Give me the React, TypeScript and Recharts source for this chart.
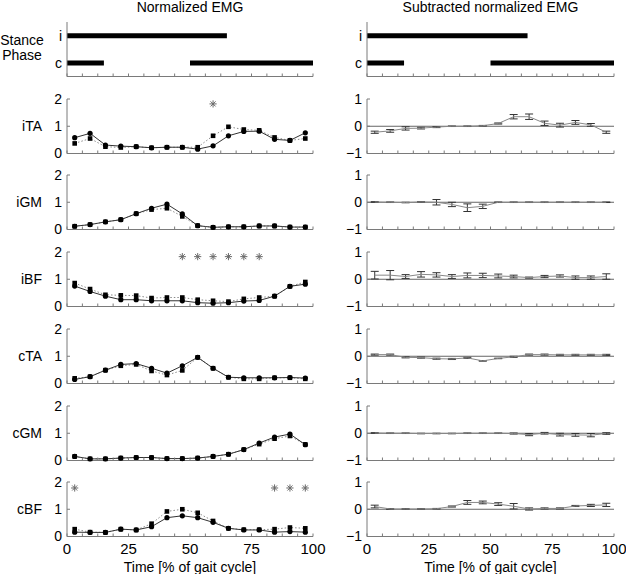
import React from 'react';
import { ComposedChart, Line, XAxis, YAxis, Scatter, ErrorBar, ReferenceLine } from 'recharts';

const FONT = '"Liberation Sans", Arial, Helvetica, sans-serif';
const AXIS = '#7a7a7a';

// ---------- data ----------
const gaitPct = [3.125, 9.375, 15.625, 21.875, 28.125, 34.375, 40.625, 46.875, 53.125, 59.375, 65.625, 71.875, 78.125, 84.375, 90.625, 96.875];
const xTicks = [0, 6.25, 12.5, 18.75, 25, 31.25, 37.5, 43.75, 50, 56.25, 62.5, 68.75, 75, 81.25, 87.5, 93.75, 100];
const xTickLabels = [0, 25, 50, 75, 100];
const muscles = ['iTA', 'iGM', 'iBF', 'cTA', 'cGM', 'cBF'];
const titles = ['Normalized EMG', 'Subtracted normalized EMG'];

// stance phase segments [start, end] in % gait cycle
const stanceI = [[0, 65]];
const stanceC = [[0, 15], [50, 100]];

// normalized EMG: condition 1 (circles, solid line) and condition 2 (squares, dotted line)
const iTA_circ = [0.58, 0.74, 0.31, 0.27, 0.25, 0.21, 0.23, 0.23, 0.16, 0.28, 0.65, 0.81, 0.82, 0.52, 0.48, 0.76];
const iTA_sq = [0.37, 0.55, 0.25, 0.22, 0.25, 0.21, 0.23, 0.23, 0.23, 0.65, 0.98, 0.88, 0.85, 0.59, 0.48, 0.55];
const iGM_circ = [0.12, 0.18, 0.28, 0.36, 0.58, 0.78, 0.93, 0.57, 0.14, 0.08, 0.1, 0.1, 0.13, 0.13, 0.09, 0.09];
const iGM_sq = [0.12, 0.18, 0.28, 0.36, 0.58, 0.73, 0.78, 0.48, 0.14, 0.08, 0.1, 0.1, 0.13, 0.13, 0.09, 0.09];
const iBF_circ = [0.75, 0.55, 0.38, 0.25, 0.25, 0.21, 0.21, 0.21, 0.14, 0.12, 0.14, 0.2, 0.22, 0.38, 0.74, 0.82];
const iBF_sq = [0.86, 0.64, 0.43, 0.41, 0.4, 0.31, 0.33, 0.33, 0.25, 0.21, 0.18, 0.28, 0.33, 0.38, 0.74, 0.9];
const cTA_circ = [0.15, 0.25, 0.49, 0.7, 0.73, 0.56, 0.38, 0.65, 0.96, 0.56, 0.23, 0.21, 0.21, 0.21, 0.22, 0.2];
const cTA_sq = [0.19, 0.25, 0.49, 0.65, 0.7, 0.46, 0.31, 0.48, 0.96, 0.56, 0.23, 0.17, 0.17, 0.21, 0.21, 0.17];
const cGM_circ = [0.15, 0.06, 0.06, 0.09, 0.11, 0.11, 0.07, 0.07, 0.09, 0.15, 0.23, 0.4, 0.64, 0.86, 0.97, 0.58];
const cGM_sq = [0.15, 0.06, 0.06, 0.09, 0.11, 0.11, 0.07, 0.07, 0.09, 0.15, 0.23, 0.4, 0.6, 0.8, 0.9, 0.59];
const cBF_circ = [0.16, 0.15, 0.15, 0.27, 0.24, 0.36, 0.69, 0.76, 0.69, 0.52, 0.3, 0.24, 0.24, 0.16, 0.18, 0.16];
const cBF_sq = [0.27, 0.16, 0.15, 0.27, 0.24, 0.47, 0.92, 1.0, 0.87, 0.57, 0.3, 0.25, 0.25, 0.27, 0.33, 0.3];

// significance markers (x in % gait cycle, y level)
const iTA_sigX = [59.375];
const iBF_sigX = [46.875, 53.125, 59.375, 65.625, 71.875, 78.125];
const cBF_sigX = [3.125, 84.375, 90.625, 96.875];
const sigLevel = [1.82, 0, 1.83, 0, 0, 1.78];

// subtracted normalized EMG: mean difference and error
const iTA_diff = [-0.22, -0.17, -0.08, -0.07, -0.03, 0, 0, 0.02, 0.1, 0.35, 0.35, 0.11, 0.04, 0.14, 0.05, -0.22];
const iTA_err = [0.04, 0.05, 0.06, 0.03, 0.02, 0.01, 0.01, 0.01, 0.02, 0.08, 0.1, 0.08, 0.07, 0.07, 0.05, 0.04];
const iGM_diff = [0.01, 0, -0.01, 0.01, 0, -0.08, -0.2, -0.15, 0, 0, 0, 0, 0, 0, 0, 0];
const iGM_err = [0.01, 0.01, 0.01, 0.01, 0.1, 0.08, 0.14, 0.08, 0.01, 0.01, 0.01, 0.01, 0.01, 0.01, 0.01, 0.01];
const iBF_diff = [0.15, 0.15, 0.1, 0.18, 0.16, 0.1, 0.14, 0.14, 0.12, 0.1, 0.06, 0.1, 0.12, 0.06, 0.06, 0.1];
const iBF_err = [0.14, 0.17, 0.07, 0.1, 0.08, 0.07, 0.09, 0.08, 0.07, 0.05, 0.02, 0.04, 0.04, 0.06, 0.06, 0.1];
const cTA_diff = [0.06, 0.06, -0.04, -0.05, -0.09, -0.1, -0.06, -0.17, -0.08, -0.02, 0.06, 0.06, 0.05, 0.05, 0.05, 0.05];
const cTA_err = [0.02, 0.02, 0.02, 0.02, 0.02, 0.02, 0.02, 0.01, 0.01, 0.02, 0.02, 0.02, 0.02, 0.02, 0.02, 0.02];
const cGM_diff = [0.01, 0, 0, -0.01, -0.01, -0.01, 0, 0, 0, -0.01, -0.05, 0, -0.05, -0.06, -0.07, -0.01];
const cGM_err = [0.01, 0.01, 0.01, 0.01, 0.01, 0.01, 0.01, 0.01, 0.01, 0.02, 0.04, 0.03, 0.05, 0.05, 0.06, 0.03];
const cBF_diff = [0.1, 0.01, 0.01, 0.01, 0.02, 0.1, 0.25, 0.25, 0.19, 0.11, 0.01, 0.03, 0.03, 0.12, 0.14, 0.16];
const cBF_err = [0.05, 0.01, 0.01, 0.01, 0.01, 0.02, 0.07, 0.05, 0.05, 0.1, 0.04, 0.02, 0.02, 0.02, 0.04, 0.06];

const circSeries = [iTA_circ, iGM_circ, iBF_circ, cTA_circ, cGM_circ, cBF_circ];
const sqSeries = [iTA_sq, iGM_sq, iBF_sq, cTA_sq, cGM_sq, cBF_sq];
const sigSeries = [iTA_sigX, [], iBF_sigX, [], [], cBF_sigX];
const diffSeries = [iTA_diff, iGM_diff, iBF_diff, cTA_diff, cGM_diff, cBF_diff];
const errSeries = [iTA_err, iGM_err, iBF_err, cTA_err, cGM_err, cBF_err];

// ---------- layout ----------
const PLOT_H = 54.5;
const MT = 10;
const XH = 8;
const XH_LAST = 40;
const STANCE_BOTTOM = 76;
const ROW_BOTTOMS = [153, 229.5, 306.5, 383, 460, 536.5];
const COLS = [
  { left: 0, width: 334, right: 21 },
  { left: 300, width: 326, right: 12 },
];
const Y_W = 67;

const minusFmt = (v: number) => (v < 0 ? '\u2212' + Math.abs(v) : String(v));

const renderXTick = (show: boolean) => (p: any) => {
  if (!show || !xTickLabels.includes(p.payload.value)) return <g />;
  return (
    <text x={p.x} y={p.y} dy="0.71em" textAnchor="middle" fontSize={15} fill="#000">
      {p.payload.value}
    </text>
  );
};

const squareDot = (p: any) => (
  <rect key={`sq-${p.index}`} x={p.cx - 2.3} y={p.cy - 2.3} width={4.6} height={4.6} fill="#000" />
);

const asterisk = (p: any) => {
  const r = 3.6;
  const d = r * 0.7071;
  return (
    <g stroke="#6a6a6a" strokeWidth={1}>
      <line x1={p.cx - r} y1={p.cy} x2={p.cx + r} y2={p.cy} />
      <line x1={p.cx} y1={p.cy - r} x2={p.cx} y2={p.cy + r} />
      <line x1={p.cx - d} y1={p.cy - d} x2={p.cx + d} y2={p.cy + d} />
      <line x1={p.cx - d} y1={p.cy + d} x2={p.cx + d} y2={p.cy - d} />
    </g>
  );
};

function xAxisEl(isLast: boolean) {
  return (
    <XAxis
      type="number"
      dataKey="x"
      domain={[0, 100]}
      ticks={xTicks}
      interval={0}
      tickSize={-3}
      tickMargin={9.5}
      stroke={AXIS}
      height={isLast ? XH_LAST : XH}
      tick={renderXTick(isLast)}
      allowDataOverflow
      label={
        isLast
          ? { value: 'Time [% of gait cycle]', position: 'insideBottom', offset: 4.5, fontSize: 14, fill: '#000' }
          : undefined
      }
    />
  );
}

function StancePanel({ col }: { col: number }) {
  const c = COLS[col];
  const top = STANCE_BOTTOM - PLOT_H - MT;
  const height = MT + PLOT_H + XH;
  return (
    <div style={{ position: 'absolute', left: c.left, top, width: c.width, height }}>
      <ComposedChart width={c.width} height={height} margin={{ top: MT, right: c.right, bottom: 0, left: 0 }}>
        {xAxisEl(false)}
        <YAxis
          type="number"
          domain={[0, 4]}
          ticks={[1, 3]}
          interval={0}
          width={Y_W}
          tickSize={-3}
          tickMargin={8}
          tickLine={false}
          stroke={AXIS}
          tickFormatter={(v: number) => (v === 3 ? 'i' : 'c')}
          tick={{ fontSize: 14, fill: '#000' }}
        />
        {stanceI.map((s, i) => (
          <Line
            key={`i${i}`}
            data={[{ x: s[0], y: 3 }, { x: s[1], y: 3 }]}
            dataKey="y"
            stroke="#000"
            strokeWidth={5}
            dot={false}
            isAnimationActive={false}
          />
        ))}
        {stanceC.map((s, i) => (
          <Line
            key={`c${i}`}
            data={[{ x: s[0], y: 1 }, { x: s[1], y: 1 }]}
            dataKey="y"
            stroke="#000"
            strokeWidth={5}
            dot={false}
            isAnimationActive={false}
          />
        ))}
      </ComposedChart>
    </div>
  );
}

function LeftPanel({ idx }: { idx: number }) {
  const c = COLS[0];
  const isLast = idx === 5;
  const top = ROW_BOTTOMS[idx] - PLOT_H - MT;
  const height = MT + PLOT_H + (isLast ? XH_LAST : XH);
  const rows = gaitPct.map((x, i) => ({ x, circ: circSeries[idx][i], sq: sqSeries[idx][i] }));
  const sig = sigSeries[idx].map((x) => ({ x, y: sigLevel[idx] }));
  return (
    <div style={{ position: 'absolute', left: c.left, top, width: c.width, height }}>
      <ComposedChart width={c.width} height={height} data={rows} margin={{ top: MT, right: c.right, bottom: 0, left: 0 }}>
        {xAxisEl(isLast)}
        <YAxis
          type="number"
          domain={[0, 2]}
          ticks={[0, 1, 2]}
          interval={0}
          width={Y_W}
          tickSize={-3}
          tickMargin={8}
          stroke={AXIS}
          tick={{ fontSize: 14, fill: '#000' }}
          label={{ value: muscles[idx], position: 'insideRight', offset: 25, fontSize: 14, fill: '#000' }}
        />
        <Line
          dataKey="sq"
          stroke="#8a8a8a"
          strokeWidth={1}
          strokeDasharray="1.5 2"
          dot={squareDot}
          isAnimationActive={false}
        />
        <Line
          dataKey="circ"
          stroke="#333"
          strokeWidth={1}
          dot={{ r: 2.6, fill: '#000', stroke: '#000', strokeWidth: 0 }}
          isAnimationActive={false}
        />
        {sig.length > 0 && (
          <Scatter data={sig} dataKey="y" shape={asterisk} isAnimationActive={false} />
        )}
      </ComposedChart>
    </div>
  );
}

function RightPanel({ idx }: { idx: number }) {
  const c = COLS[1];
  const isLast = idx === 5;
  const top = ROW_BOTTOMS[idx] - PLOT_H - MT;
  const height = MT + PLOT_H + (isLast ? XH_LAST : XH);
  const rows = gaitPct.map((x, i) => ({ x, d: diffSeries[idx][i], e: errSeries[idx][i] }));
  return (
    <div style={{ position: 'absolute', left: c.left, top, width: c.width, height }}>
      <ComposedChart width={c.width} height={height} data={rows} margin={{ top: MT, right: c.right, bottom: 0, left: 0 }}>
        {xAxisEl(isLast)}
        <YAxis
          type="number"
          domain={[-1, 1]}
          ticks={[-1, 0, 1]}
          interval={0}
          width={Y_W}
          tickSize={-3}
          tickMargin={8}
          stroke={AXIS}
          tickFormatter={minusFmt}
          tick={{ fontSize: 14, fill: '#000' }}
        />
        <ReferenceLine y={0} stroke="#666" strokeWidth={1} />
        <Line dataKey="d" stroke="#888" strokeWidth={1} dot={false} isAnimationActive={false}>
          <ErrorBar dataKey="e" width={4} stroke="#333" strokeWidth={1} direction="y" isAnimationActive={false} />
        </Line>
      </ComposedChart>
    </div>
  );
}

export default function App() {
  return (
    <div
      style={{
        position: 'absolute',
        left: 0,
        top: 0,
        width: 626,
        height: 574,
        background: '#fff',
        fontFamily: FONT,
        color: '#000',
        overflow: 'hidden',
      }}
    >
      <div style={{ position: 'absolute', left: 67, top: 0, width: 246, textAlign: 'center', fontSize: 14, lineHeight: '14px' }}>
        {titles[0]}
      </div>
      <div style={{ position: 'absolute', left: 367, top: 0, width: 247, textAlign: 'center', fontSize: 14, lineHeight: '14px' }}>
        {titles[1]}
      </div>
      <div style={{ position: 'absolute', left: 0, top: 32.7, width: 44, textAlign: 'center', fontSize: 14, lineHeight: '15px' }}>
        Stance
        <br />
        Phase
      </div>
      <StancePanel col={0} />
      <StancePanel col={1} />
      {muscles.map((m, i) => (
        <LeftPanel key={`L${m}`} idx={i} />
      ))}
      {muscles.map((m, i) => (
        <RightPanel key={`R${m}`} idx={i} />
      ))}
    </div>
  );
}
